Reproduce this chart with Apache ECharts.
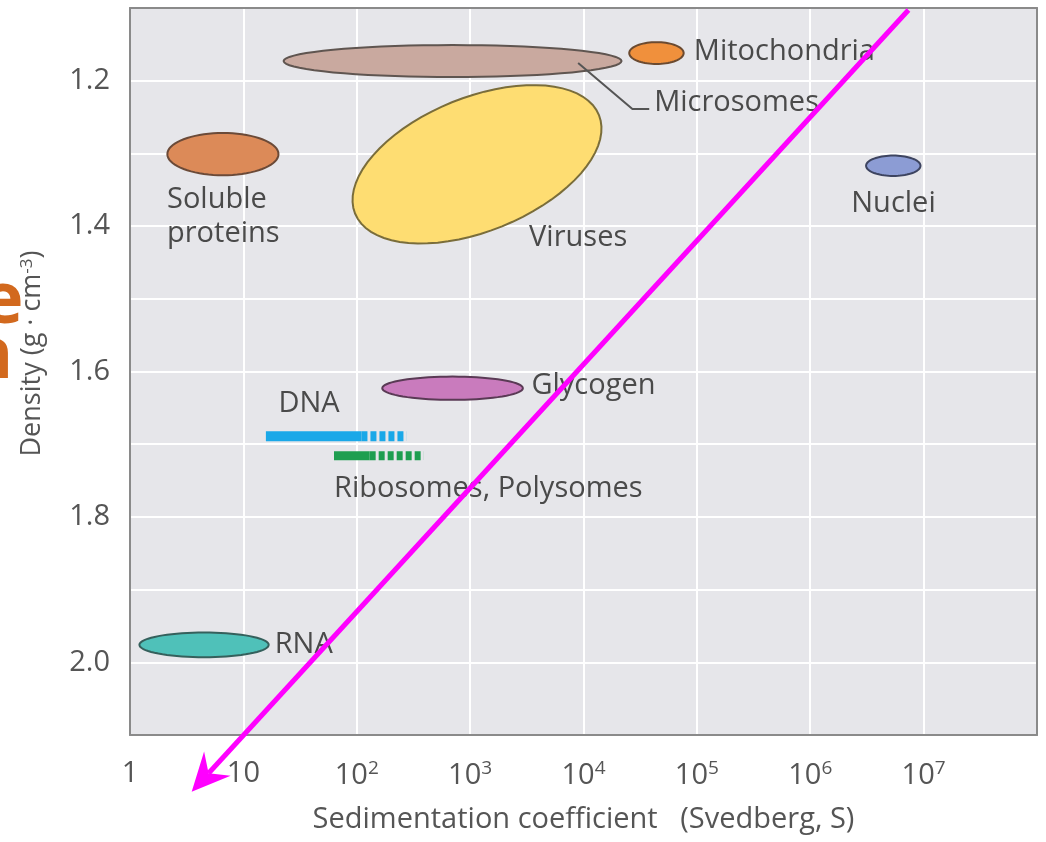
<!DOCTYPE html>
<html>
<head>
<meta charset="utf-8">
<script src="https://cdn.jsdelivr.net/npm/echarts@6/dist/echarts.min.js"></script>
<style>
  html, body { margin: 0; padding: 0; background: #ffffff; }
  #chart { width: 1046px; height: 842px; }
</style>
</head>
<body>
<div id="chart"></div>
<script>
// ------------------------------
// Data
// ------------------------------
var blobNames = ["Microsomes", "Mitochondria", "Viruses", "Soluble proteins", "Nuclei", "Glycogen", "RNA"];
var blobS = [700, 44000, 1150, 6.6, 5.4e6, 700, 4.5];            // centre, Svedberg
var blobDensity = [1.173, 1.162, 1.315, 1.301, 1.317, 1.623, 1.976]; // centre, g/cm3
var blobHalfDecades = [1.49, 0.24, 1.16, 0.49, 0.24, 0.62, 0.57];   // half width in decades
var blobHalfDensity = [0.022, 0.015, 0.092, 0.029, 0.014, 0.016, 0.017];
var blobTilt = [0, 0, -22, 0, 0, 0, 0];
var blobFill = ["#c9a99f", "#f0903c", "#fedd72", "#dc8a58", "#8c9cd4", "#c97bbd", "#4fc1b9"];
var blobStroke = ["#5f5550", "#6b4a30", "#7a6d3a", "#6b4a38", "#3d4460", "#5a3a55", "#35605c"];

// DNA and ribosome ranges: [from, to] in S, density
var dnaSolid = [[15.8, 1.689], [110, 1.689]];
var dnaDashed = [[110, 1.689], [275, 1.689]];
var riboSolid = [[63, 1.716], [130, 1.716]];
var riboDashed = [[130, 1.716], [390, 1.716]];

// label anchors: left edge S, centre density
var labelTexts = ["Mitochondria", "Microsomes", "Soluble\nproteins", "Viruses", "Nuclei", "Glycogen", "DNA", "Ribosomes, Polysomes", "RNA"];
var labelS = [9.4e4, 4.2e4, 2.12, 3310, 2.3e6, 3470, 20.4, 63, 18.9];
var labelDensity = [1.1605, 1.2307, 1.3875, 1.4164, 1.3696, 1.62, 1.6447, 1.7616, 1.976];

var microsomeLeader = [[8970, 1.1757], [2.7e4, 1.239], [3.8e4, 1.239]];
var arrowPath = [[7.35e6, 1.1028], [3.5, 2.178]];

var fontFam = "'Open Sans', 'DejaVu Sans', sans-serif";

var chart = echarts.init(document.getElementById("chart"));

function ellipseItem(params, api) {
  var i = params.dataIndex;
  var s = api.value(0), d = api.value(1);
  var c = api.coord([s, d]);
  var ex = api.coord([s * Math.pow(10, api.value(2)), d]);
  var ey = api.coord([s, d + api.value(3)]);
  var rx = ex[0] - c[0];
  var ry = ey[1] - c[1];
  var a = (blobTilt[i] * Math.PI) / 180;
  var pts = [];
  for (var k = 0; k < 72; k++) {
    var t = (k / 72) * Math.PI * 2;
    var x = rx * Math.cos(t), y = ry * Math.sin(t);
    pts.push([c[0] + x * Math.cos(a) - y * Math.sin(a), c[1] + x * Math.sin(a) + y * Math.cos(a)]);
  }
  return {
    type: "polygon",
    shape: { points: pts },
    style: { fill: blobFill[i], stroke: blobStroke[i], lineWidth: 2 },
  };
}

function labelItem(params, api) {
  var p = api.coord([api.value(0), api.value(1)]);
  return {
    type: "text",
    x: p[0],
    y: p[1],
    style: {
      text: labelTexts[params.dataIndex],
      fill: "#4a4a4a",
      font: "29px " + fontFam,
      lineHeight: 34,
      align: "left",
      verticalAlign: "middle",
    },
  };
}

function arrowItem(params, api) {
  var p0 = api.coord(arrowPath[0]);
  var p1 = api.coord(arrowPath[1]);
  var dx = p1[0] - p0[0], dy = p1[1] - p0[1];
  var len = Math.sqrt(dx * dx + dy * dy);
  var ux = dx / len, uy = dy / len;
  var nx = -uy, ny = ux;
  var headLen = 38, headHalf = 18, notch = 25;
  var base = [p1[0] - ux * headLen, p1[1] - uy * headLen];
  var inner = [p1[0] - ux * notch, p1[1] - uy * notch];
  return {
    type: "group",
    children: [
      {
        type: "line",
        shape: { x1: p0[0], y1: p0[1], x2: inner[0], y2: inner[1] },
        style: { stroke: "#ff00ff", lineWidth: 5 },
      },
      {
        type: "polygon",
        shape: {
          points: [
            p1,
            [base[0] + nx * headHalf, base[1] + ny * headHalf],
            inner,
            [base[0] - nx * headHalf, base[1] - ny * headHalf],
          ],
        },
        style: { fill: "#ff00ff" },
      },
    ],
  };
}

var blobData = blobNames.map(function (n, i) {
  return { name: n, value: [blobS[i], blobDensity[i], blobHalfDecades[i], blobHalfDensity[i]] };
});
var labelData = labelTexts.map(function (t, i) {
  return [labelS[i], labelDensity[i]];
});

var frameLine = { show: true, lineStyle: { color: "#8a8a8a", width: 2 } };

var option = {
  animation: false,
  grid: {
    left: 130,
    right: 9,
    top: 8,
    bottom: 107,
    show: true,
    backgroundColor: "#e6e6ea",
    borderWidth: 0,
  },
  xAxis: [
    {
      type: "log",
      logBase: 10,
      min: 1,
      max: 1e8,
      name: "Sedimentation coefficient   (Svedberg, S)",
      nameLocation: "middle",
      nameGap: 70,
      nameTextStyle: { color: "#555", fontSize: 29, fontFamily: fontFam },
      axisLine: frameLine,
      axisTick: { show: false },
      splitLine: { show: true, lineStyle: { color: "#ffffff", width: 2 } },
      axisLabel: {
        margin: 24,
        color: "#555",
        fontSize: 29,
        fontFamily: fontFam,
        formatter: function (v) {
          var e = Math.round(Math.log(v) / Math.LN10);
          if (e === 0) return "1";
          if (e === 1) return "10";
          if (e >= 8) return "";
          return "{b|10}{s|" + e + "}";
        },
        rich: {
          b: { fontSize: 29, color: "#555", fontFamily: fontFam, lineHeight: 34 },
          s: { fontSize: 19, color: "#555", fontFamily: fontFam, verticalAlign: "top", lineHeight: 19 },
        },
      },
    },
    {
      type: "log",
      logBase: 10,
      min: 1,
      max: 1e8,
      position: "top",
      axisLine: frameLine,
      axisTick: { show: false },
      axisLabel: { show: false },
      splitLine: { show: false },
    },
  ],
  yAxis: [
    {
      type: "value",
      inverse: true,
      min: 1.1,
      max: 2.1,
      interval: 0.1,
      name: "Density (g · cm{s|-3})",
      nameLocation: "middle",
      nameGap: 84,
      nameTextStyle: {
        color: "#555",
        fontSize: 27,
        fontFamily: fontFam,
        padding: [0, 0, 0, 36],
        rich: { s: { fontSize: 17, color: "#555", fontFamily: fontFam, verticalAlign: "top", lineHeight: 17 } },
      },
      axisLine: frameLine,
      axisTick: { show: false },
      splitLine: { show: true, lineStyle: { color: "#ffffff", width: 2 } },
      axisLabel: {
        margin: 20,
        color: "#555",
        fontSize: 29,
        fontFamily: fontFam,
        formatter: function (v) {
          var t = Math.round(v * 10);
          if (t % 2 !== 0) return "";
          return (t / 10).toFixed(1);
        },
      },
    },
    {
      type: "value",
      inverse: true,
      min: 1.1,
      max: 2.1,
      position: "right",
      axisLine: frameLine,
      axisTick: { show: false },
      axisLabel: { show: false },
      splitLine: { show: false },
    },
  ],
  graphic: [
    { type: "text", left: -19, top: 266, z: -1, style: { text: "e", fill: "#d2691e", font: "bold 72px 'Open Sans', sans-serif" } },
    { type: "text", left: -34, top: 321, z: -1, style: { text: "n", fill: "#d2691e", font: "bold 72px 'Open Sans', sans-serif" } },
  ],
  series: [
    {
      name: "blobs",
      type: "custom",
      renderItem: ellipseItem,
      encode: { x: 0, y: 1 },
      data: blobData,
      z: 2,
    },
    {
      name: "DNA",
      type: "line",
      data: dnaSolid,
      symbol: "none",
      lineStyle: { color: "#1aa8e8", width: 10, cap: "butt" },
      z: 3,
    },
    {
      name: "DNA range",
      type: "line",
      data: dnaDashed,
      symbol: "none",
      lineStyle: { color: "#1aa8e8", width: 10, type: [6, 3], cap: "butt" },
      z: 3,
    },
    {
      name: "Ribosomes",
      type: "line",
      data: riboSolid,
      symbol: "none",
      lineStyle: { color: "#1f9e50", width: 9, cap: "butt" },
      z: 3,
    },
    {
      name: "Ribosomes range",
      type: "line",
      data: riboDashed,
      symbol: "none",
      lineStyle: { color: "#1f9e50", width: 9, type: [6, 3], cap: "butt" },
      z: 3,
    },
    {
      name: "leader",
      type: "line",
      data: microsomeLeader,
      symbol: "none",
      lineStyle: { color: "#555", width: 2 },
      z: 4,
    },
    {
      name: "labels",
      type: "custom",
      renderItem: labelItem,
      encode: { x: 0, y: 1 },
      data: labelData,
      z: 5,
    },
    {
      name: "arrow",
      type: "custom",
      renderItem: arrowItem,
      clip: false,
      data: [arrowPath[0]],
      encode: { x: 0, y: 1 },
      z: 10,
    },
  ],
};
chart.setOption(option);

window.addEventListener("resize", function () {
  chart.resize();
});
</script>
</body>
</html>
